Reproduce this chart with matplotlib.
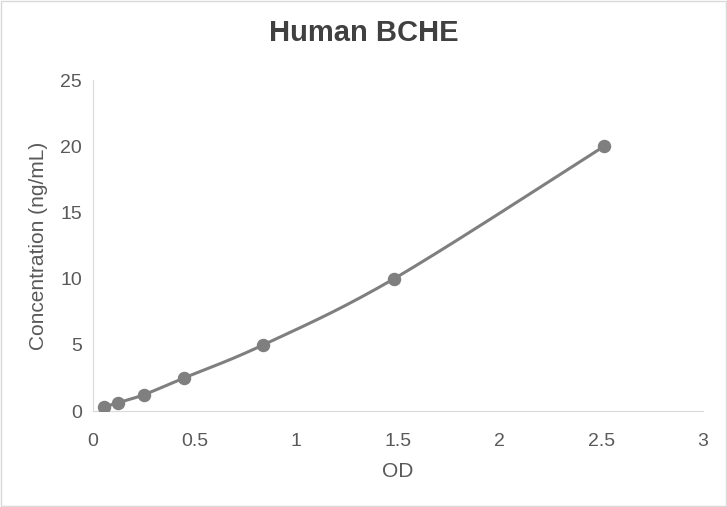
import numpy as np
import matplotlib.pyplot as plt

od = [0.052, 0.121, 0.251, 0.446, 0.836, 1.48, 2.513]
conc = [0.3125, 0.625, 1.25, 2.5, 5, 10, 20]

x_ticks = [0, 0.5, 1, 1.5, 2, 2.5, 3]
y_ticks = [0, 5, 10, 15, 20, 25]


def smooth(xs, ys, n=30):
    # Excel style smoothed line (Catmull-Rom through the points)
    p = np.column_stack([xs, ys])
    p = np.vstack([p[0], p, p[-1]])
    out = []
    for i in range(1, len(p) - 2):
        p0, p1, p2, p3 = p[i - 1], p[i], p[i + 1], p[i + 2]
        t = np.linspace(0, 1, n)[:, None]
        c = 0.5 * ((2 * p1) + (-p0 + p2) * t + (2 * p0 - 5 * p1 + 4 * p2 - p3) * t**2
                   + (-p0 + 3 * p1 - 3 * p2 + p3) * t**3)
        out.append(c)
    c = np.vstack(out)
    return c[:, 0], c[:, 1]


plt.rcParams['font.family'] = ['Liberation Sans', 'DejaVu Sans']

fig = plt.figure(figsize=(7.27, 5.07), dpi=100)
fig.patches.append(plt.Rectangle((0.001, 0.001), 0.998, 0.997, transform=fig.transFigure,
                                 fill=False, edgecolor='#d9d9d9', linewidth=1))
ax = fig.add_axes([0.128, 0.189, 0.839, 0.653])

sx, sy = smooth(od, conc)
ax.plot(sx, sy, color='#7f7f7f', linewidth=2.2, zorder=2)
ax.scatter(od, conc, s=75, color='#7f7f7f', zorder=3)

ax.set_xlim(0, 3)
ax.set_ylim(0, 25)
ax.set_xticks(x_ticks)
ax.set_xticklabels([f'{v:g}' for v in x_ticks])
ax.set_yticks(y_ticks)
for s in ['top', 'right']:
    ax.spines[s].set_visible(False)
for s in ['left', 'bottom']:
    ax.spines[s].set_color('#d9d9d9')
ax.tick_params(length=0, labelsize=14, colors='#595959')
ax.tick_params(axis='x', pad=16)
ax.tick_params(axis='y', pad=8)

ax.set_xlabel('OD', fontsize=15, color='#595959', labelpad=8)
ax.set_ylabel('Concentration (ng/mL)', fontsize=15, color='#595959', labelpad=9)
fig.text(0.5, 0.934, 'Human BCHE', ha='center', va='center', fontsize=21,
         fontweight='bold', color='#404040')

fig.savefig('out.png', dpi=100)
